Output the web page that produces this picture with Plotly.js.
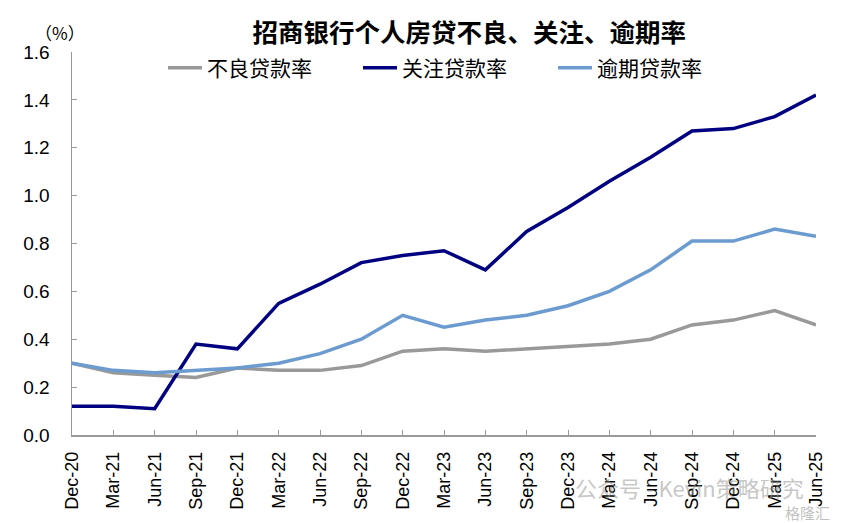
<!DOCTYPE html>
<html>
<head>
<meta charset="utf-8">
<script src="https://cdn.plot.ly/plotly-3.0.1.min.js"></script>
<style>html,body{margin:0;padding:0;background:#fff;}#chart{width:845px;height:523px;}</style>
</head>
<body>
<div id="chart"></div>
<script>
const categories = ["Dec-20","Mar-21","Jun-21","Sep-21","Dec-21","Mar-22","Jun-22","Sep-22","Dec-22","Mar-23","Jun-23","Sep-23","Dec-23","Mar-24","Jun-24","Sep-24","Dec-24","Mar-25","Jun-25"];
const nplRate = [0.30,0.26,0.25,0.24,0.28,0.27,0.27,0.29,0.35,0.36,0.35,0.36,0.37,0.38,0.40,0.46,0.48,0.52,0.46];
const attentionRate = [0.12,0.12,0.11,0.38,0.36,0.55,0.63,0.72,0.75,0.77,0.69,0.85,0.95,1.06,1.16,1.27,1.28,1.33,1.42];
const overdueRate = [0.30,0.27,0.26,0.27,0.28,0.30,0.34,0.40,0.50,0.45,0.48,0.50,0.54,0.60,0.69,0.81,0.81,0.86,0.83];
const seriesNames = ["不良贷款率","关注贷款率","逾期贷款率"];
const yTicks = [0,0.2,0.4,0.6,0.8,1.0,1.2,1.4,1.6];

const latin = '"Liberation Sans", Arial, "Noto Sans CJK SC", sans-serif';
const cjk = '"Noto Sans CJK SC", sans-serif';
const traces = [
  {x: categories, y: nplRate, name: seriesNames[0], legend:'legend', type:'scatter', mode:'lines', line:{color:'#999999', width:3.5}},
  {x: categories, y: attentionRate, name: seriesNames[1], legend:'legend2', type:'scatter', mode:'lines', line:{color:'#000080', width:3.5}},
  {x: categories, y: overdueRate, name: seriesNames[2], legend:'legend3', type:'scatter', mode:'lines', line:{color:'#6c9bd0', width:3.5}}
];
function leg(x){
  return {orientation:'h', x:x, xanchor:'left', y:0.958, yanchor:'middle', font:{family:cjk, size:21}, itemwidth:34, bgcolor:'rgba(0,0,0,0)'};
}
const layout = {
  width:845, height:523,
  margin:{l:72, r:29, t:52, b:88},
  paper_bgcolor:'#fff', plot_bgcolor:'#fff',
  font:{family:latin, size:18, color:'#000'},
  title:{text:'<b>招商银行个人房贷不良、关注、逾期率</b>', x:0.534, xref:'paper', xanchor:'center', y:0.937, yref:'container', yanchor:'middle', font:{family:cjk, size:25.5, color:'#000'}},
  showlegend:true,
  legend:leg(0.1223), legend2:leg(0.3844), legend3:leg(0.6465),
  xaxis:{type:'category', range:[0,18], showgrid:false, zeroline:false, showline:true, linecolor:'#999', linewidth:1.5, ticks:'inside', ticklen:5, tickcolor:'#999', tickangle:-90, ticklabelstandoff:8, tickfont:{size:18, family:latin}, fixedrange:true},
  yaxis:{range:[0,1.6], tickvals:yTicks, ticktext:yTicks.map(v=>v.toFixed(1)), showgrid:false, zeroline:false, showline:true, linecolor:'#999', linewidth:1.5, ticks:'inside', ticklen:5, tickcolor:'#999', ticklabelstandoff:17, tickfont:{size:19, family:latin}, fixedrange:true},
  annotations:[
    {text:'（%）', xref:'paper', yref:'paper', x:-0.016, y:1.052, xanchor:'center', yanchor:'middle', showarrow:false, font:{size:17, family:cjk}},
    {text:'公众号 - Kevin策略研究', xref:'paper', yref:'paper', x:0.673, y:-0.136, xanchor:'left', yanchor:'middle', showarrow:false, font:{size:22, color:'rgba(150,150,150,0.55)', family:cjk}},
    {text:'格隆汇', xref:'paper', yref:'paper', x:1.022, y:-0.203, xanchor:'right', yanchor:'middle', showarrow:false, font:{size:15, color:'rgba(150,150,150,0.6)', family:cjk}}
  ]
};
Plotly.newPlot('chart', traces, layout, {displayModeBar:false, staticPlot:true});
</script>
</body>
</html>
